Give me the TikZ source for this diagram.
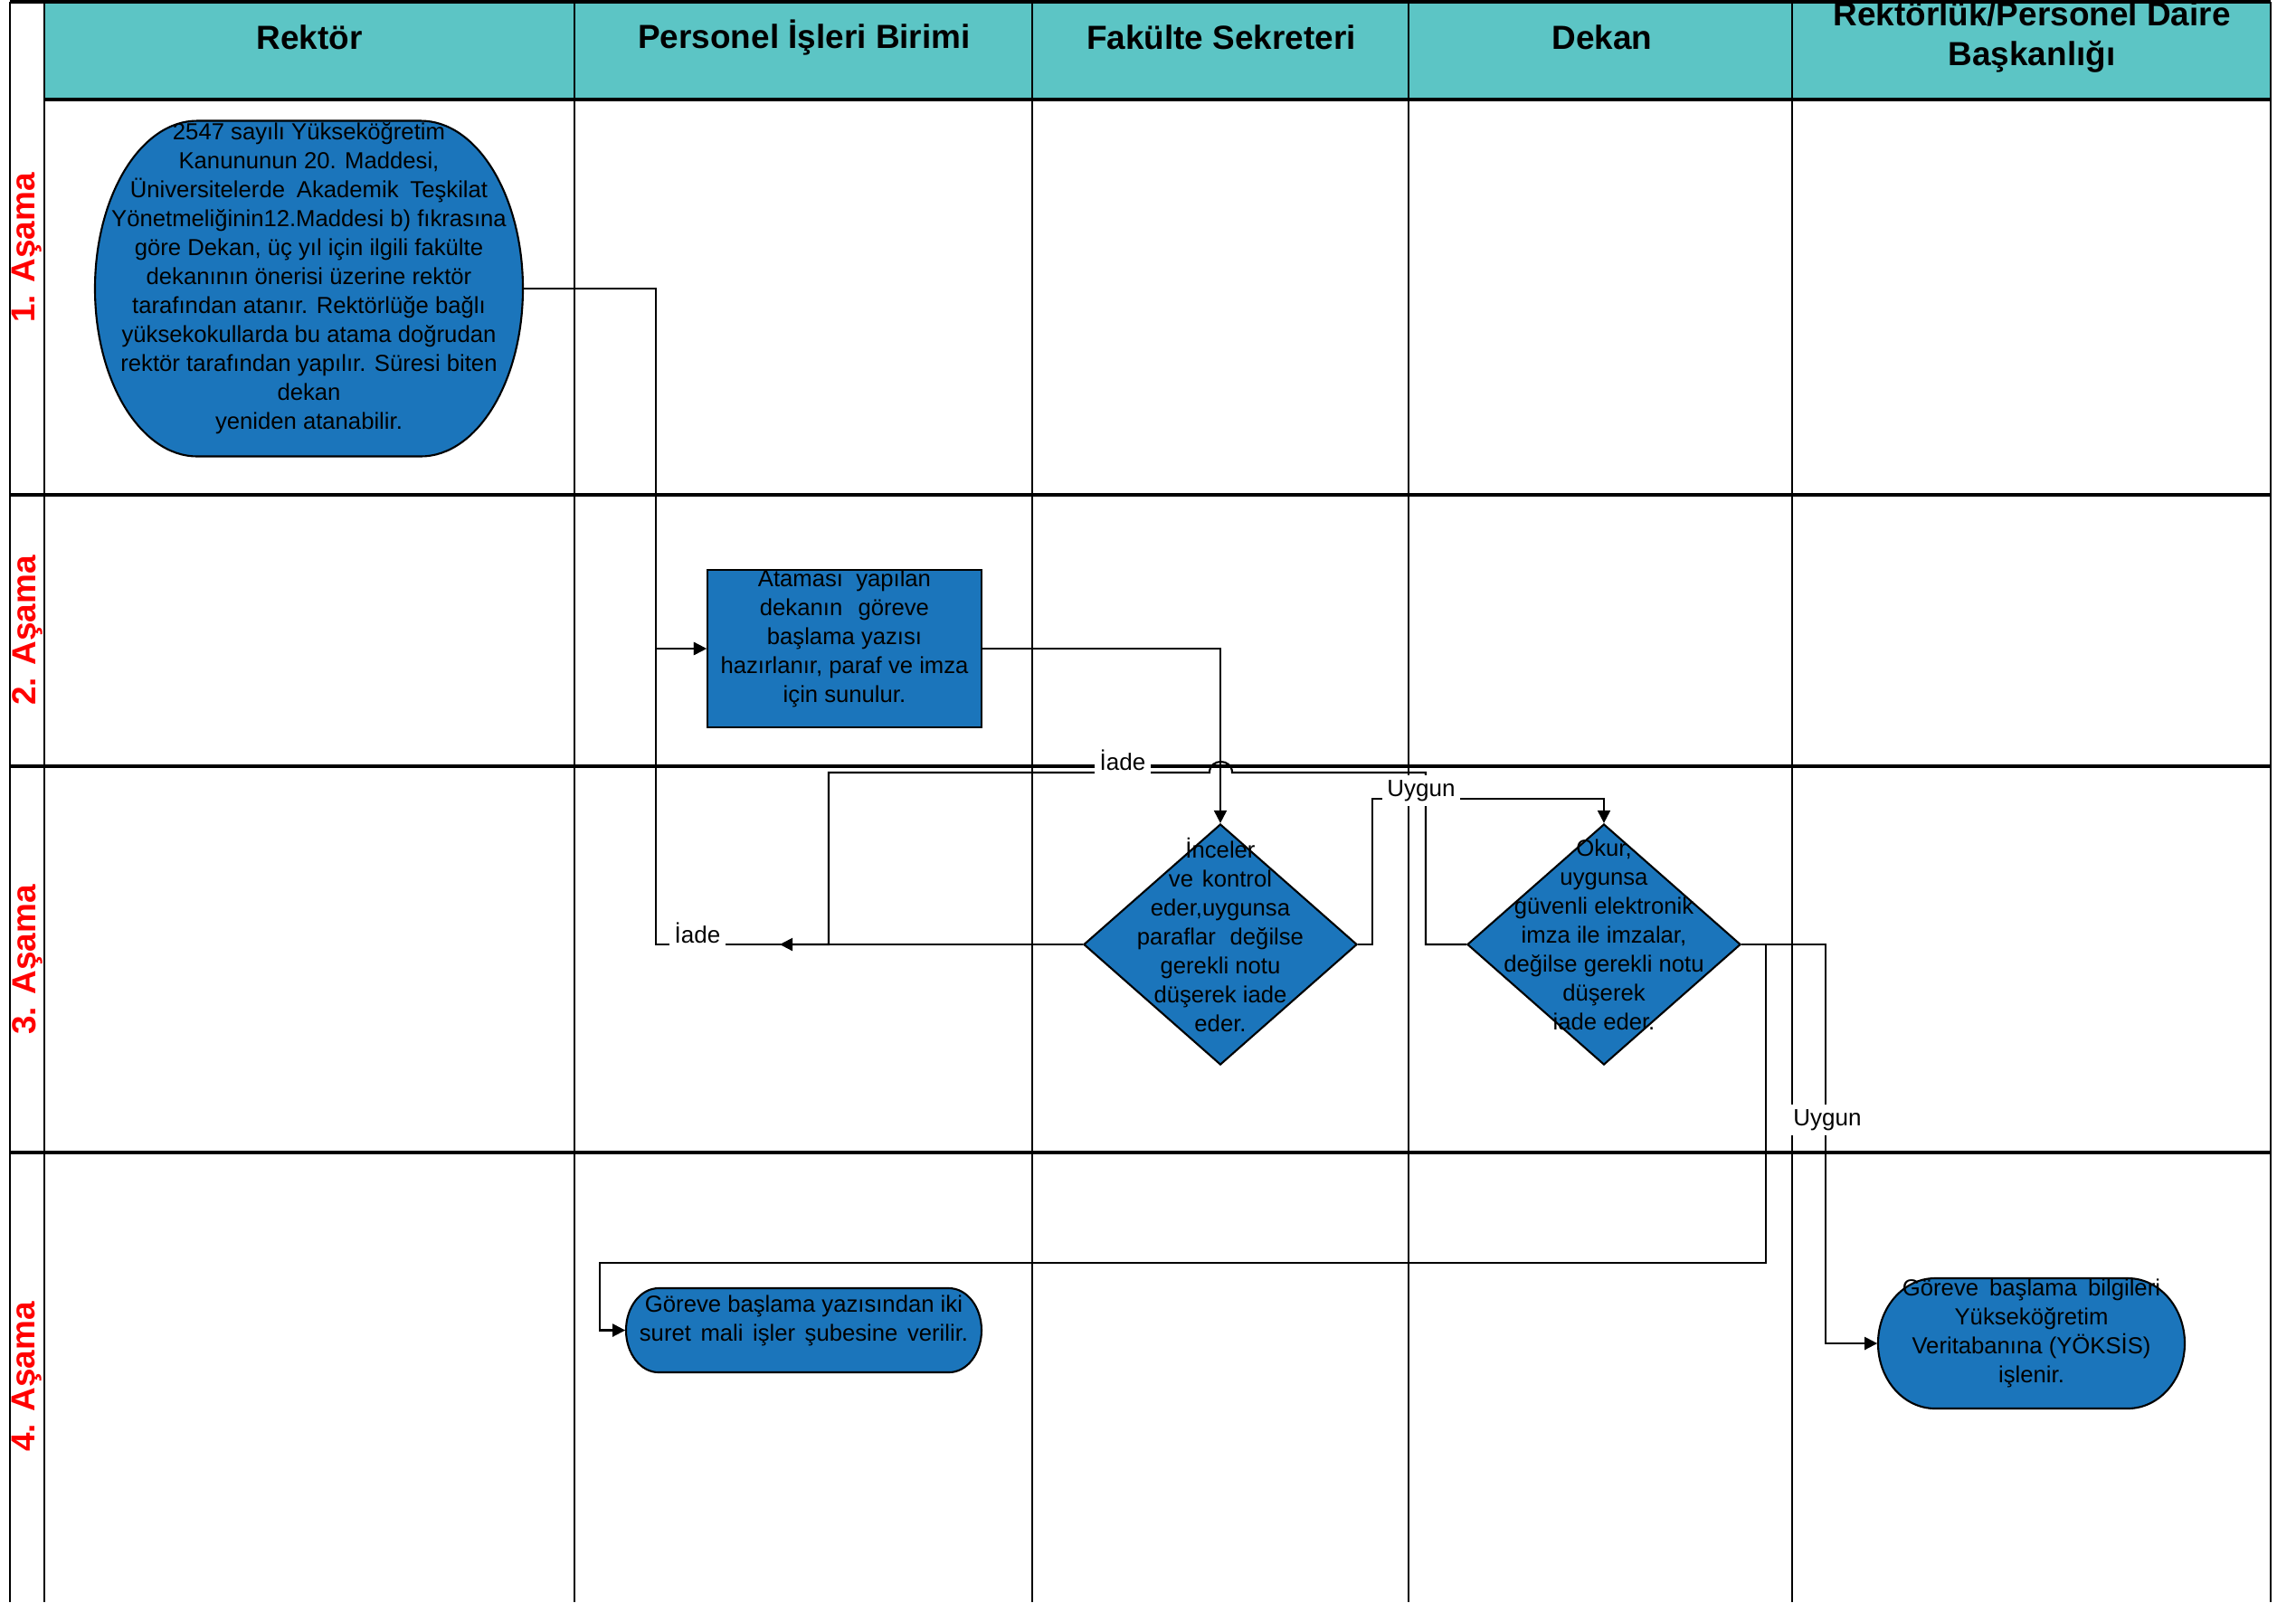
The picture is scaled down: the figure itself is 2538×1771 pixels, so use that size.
\documentclass[tikz,border=0pt]{standalone}
\usepackage{fontspec}
\setmainfont{Liberation Sans}
\usetikzlibrary{shapes.geometric,arrows.meta}

\definecolor{headteal}{RGB}{92,197,197}
\definecolor{stepblue}{RGB}{27,117,187}
\newcommand{\spreadline}[2]{\makebox[#1][s]{#2}}
% terminator outline: x, y, half flat part, bulge, half height
\newcommand{\termshape}[5]{%
  \filldraw[bodyline] (#1-#3,#2-#5) -- (#1+#3,#2-#5)
    arc[start angle=90, end angle=-90, x radius=#4*0.01cm, y radius=#5*0.01cm]
    -- (#1-#3,#2+#5)
    arc[start angle=270, end angle=90, x radius=#4*0.01cm, y radius=#5*0.01cm] -- cycle;}

\tikzset{
  lane/.style={line width=0.6pt},
  rowline/.style={line width=0.9pt},
  conn/.style={line width=0.6pt, -{Triangle[length=4pt,width=4pt]}},
  bodyline/.style={draw, line width=0.6pt, fill=stepblue},
  shapebox/.style={bodyline, inner sep=0pt},
  termnode/.style={rectangle, inner sep=0pt},
  inside/.style={label={[align=center, font=\fontsize{7.3}{9.1}\selectfont, yshift=0.11cm]center:{#1}}},
  head/.style={font=\bfseries\fontsize{10.5}{12.5}\selectfont, align=center},
  stage/.style={font=\bfseries\fontsize{10.5}{12.5}\selectfont, text=red, rotate=90},
  tag/.style={font=\fontsize{7.4}{9}\selectfont, fill=white, inner sep=1.5pt},
}

\begin{document}
\begin{tikzpicture}[x=0.01cm, y=-0.01cm]
\useasboundingbox (0,0) rectangle (2538,1771);

% lanes
\fill[headteal] (49,2) rectangle (2510,110);
\draw[rowline] (11,2) -- (2510,2);
\draw[rowline] (49,110) -- (2510,110);
\foreach \y in {547,847,1274}
  \draw[rowline] (11,\y) -- (2510,\y);
\foreach \x in {11,49,635,1141,1557,1981,2510}
  \draw[lane] (\x,2) -- (\x,1771);

% headers
\node[head] (hrektor) at (342,41) {Rektör};
\node[head] (hpib) at (889,41) {Personel İşleri Birimi};
\node[head] (hfs) at (1350,41) {Fakülte Sekreteri};
\node[head] (hdekan) at (1771,41) {Dekan};
\node[head] (hpdb) at (2246,41) {Rektörlük/Personel Daire\\Başkanlığı};

% stages
\node[stage] (s1) at (30,274) {1. Aşama};
\node[stage] (s2) at (30,697) {2. Aşama};
\node[stage] (s3) at (30,1061) {3. Aşama};
\node[stage] (s4) at (30,1522) {4. Aşama};

% terminator bodies
\termshape{341.5}{319}{123.5}{113}{185.5}
\termshape{888.5}{1470.5}{160.5}{36}{46.5}
\termshape{2245.5}{1485}{106.5}{63}{72}

% nodes
\node[termnode, minimum width=4.73cm, minimum height=3.71cm,
  inside={2547 sayılı Yükseköğretim\\Kanununun 20. Maddesi,\\
  \spreadline{3.95cm}{Üniversitelerde Akademik Teşkilat}\\
  Yönetmeliğinin12.Maddesi b) fıkrasına\\göre Dekan, üç yıl için ilgili fakülte\\
  dekanının önerisi üzerine rektör\\tarafından atanır. Rektörlüğe bağlı\\
  yüksekokullarda bu atama doğrudan\\rektör tarafından yapılır. Süresi biten\\
  dekan\\yeniden atanabilir.}] (rektor) at (341.5,319) {};
\node[shapebox, rectangle, minimum width=3.03cm, minimum height=1.74cm,
  inside={\spreadline{1.91cm}{Ataması yapılan}\\\spreadline{1.87cm}{dekanın göreve}\\
  başlama yazısı\\hazırlanır, paraf ve imza\\için sunulur.}] (atama) at (933.5,717) {};
\node[shapebox, diamond, minimum width=3.02cm, minimum height=2.66cm,
  inside={İnceler\\\spreadline{1.14cm}{ve kontrol}\\eder,uygunsa\\
  \spreadline{1.84cm}{paraflar değilse}\\gerekli notu\\düşerek iade\\eder.}] (incele) at (1349,1044) {};
\node[shapebox, diamond, minimum width=3.02cm, minimum height=2.66cm,
  inside={Okur,\\uygunsa\\güvenli elektronik\\imza ile imzalar,\\
  değilse gerekli notu\\düşerek\\iade eder.}] (okur) at (1773,1044) {};
\node[termnode, minimum width=3.93cm, minimum height=0.93cm,
  inside={Göreve başlama yazısından iki\\
  \spreadline{3.63cm}{suret mali işler şubesine verilir.}}] (goreve) at (888.5,1470.5) {};
\node[termnode, minimum width=3.39cm, minimum height=1.44cm,
  inside={\spreadline{2.85cm}{Göreve başlama bilgileri}\\Yükseköğretim\\
  Veritabanına (YÖKSİS)\\işlenir.}] (yoksis) at (2245.5,1485) {};
\coordinate (iadeend) at (862,1044);

% arrows
\draw[conn] (rektor.east) -| (725,717) -- (atama.west);
\draw[conn] (incele.west) -| (725,717) -- (atama.west);
\draw[conn] (atama.east) -| (incele.north);
\draw[conn] (incele.east) -| (1517,883) -| (okur.north);
\draw[conn] (okur.west) -| (1576,854) -- (1362,854)
  .. controls (1362,838) and (1337,838) .. (1337,854) -| (916,1044) -- (iadeend);
\draw[conn] (okur.east) -| (1952,1396) -| (663,1470.5) -- (goreve.west);
\draw[conn] (okur.east) -| (2018,1485) -- (yoksis.west);

% labels
\node[tag] (iade1) at (771,1031) {İade};
\node[tag] (iade2) at (1241,840) {İade};
\node[tag] (uygun1) at (1571,874) {Uygun};
\node[tag] (uygun2) at (2020,1238) {Uygun};
\end{tikzpicture}
\end{document}
